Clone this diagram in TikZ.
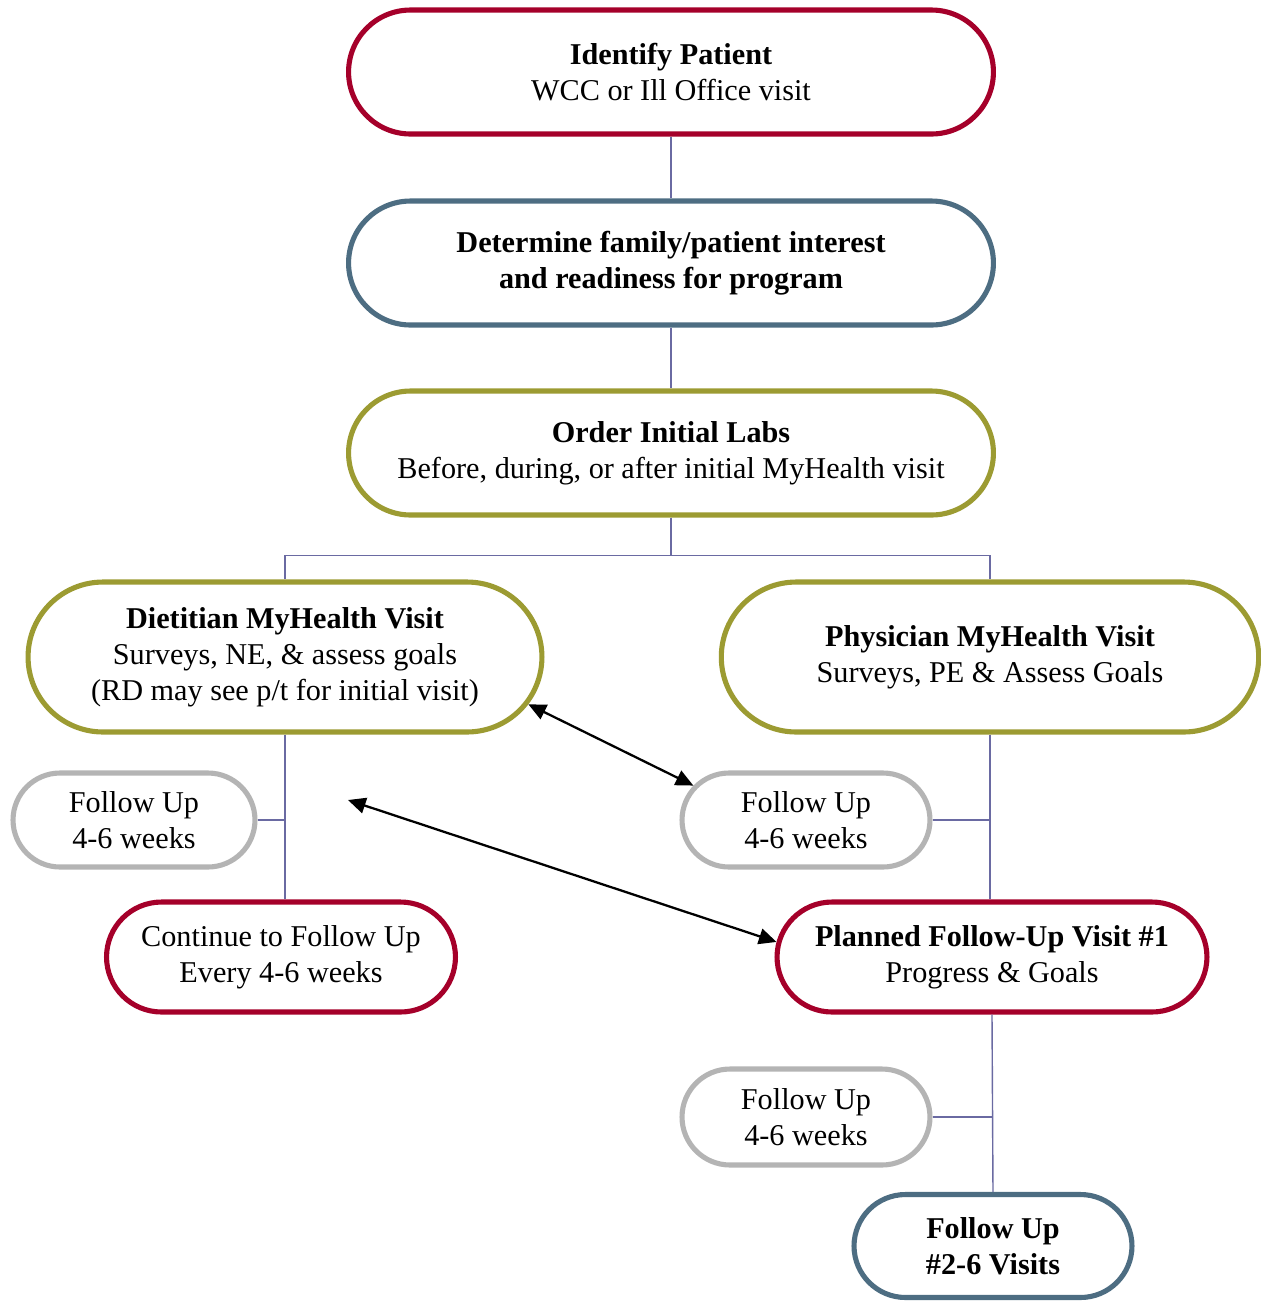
\documentclass[tikz,border=0pt]{standalone}
\usepackage{fontspec}
\setmainfont{Liberation Serif}
\usetikzlibrary{shapes.misc,arrows.meta}
\definecolor{boxred}{HTML}{A5002A}
\definecolor{boxblue}{HTML}{4D6D82}
\definecolor{boxolive}{HTML}{9C9B32}
\definecolor{boxgrey}{HTML}{B4B4B4}
\definecolor{linkblue}{HTML}{6A6AA2}
\begin{document}
\begin{tikzpicture}[x=0.02cm,y=-0.02cm,>={Triangle[length=10pt,width=9pt]},
        pill/.style={rounded rectangle,draw,line width=2.9pt,fill=white,align=center,inner sep=0pt,
            font=\fontsize{17.2}{20.5}\selectfont},
        link/.style={draw=linkblue,line width=0.8pt},
        both/.style={<->,line width=1.3pt}]
                \useasboundingbox (0,0) rectangle (1261,1303);
                % main column
                \node[pill,draw=boxred,minimum width=12.9cm,minimum height=2.48cm] (idpat) at (671,72)
                    {\textbf{Identify Patient}\\WCC or Ill Office visit};
                \node[pill,draw=boxblue,minimum width=12.9cm,minimum height=2.48cm] (interest) at (671,263)
                    {\textbf{Determine family/patient interest}\\\textbf{and readiness for program}};
                \node[pill,draw=boxolive,minimum width=12.9cm,minimum height=2.48cm] (labs) at (671,453)
                    {\textbf{Order Initial Labs}\\Before, during, or after initial MyHealth visit};
                % two visits
                \node[pill,draw=boxolive,minimum width=10.28cm,minimum height=3cm] (dietitian) at (285,657)
                    {\textbf{Dietitian MyHealth Visit}\\Surveys, NE, \& assess goals\\(RD may see p/t for initial visit)};
                \node[pill,draw=boxolive,minimum width=10.75cm,minimum height=3cm] (physician) at (990,657)
                    {\textbf{Physician MyHealth Visit}\\Surveys, PE \& Assess Goals};
                % follow ups
                \node[pill,draw=boxgrey,minimum width=4.84cm,minimum height=1.88cm] (fuleft) at (134,820)
                    {Follow Up\\4-6 weeks};
                \node[pill,draw=boxgrey,minimum width=4.96cm,minimum height=1.88cm] (fumid) at (806,820)
                    {Follow Up\\4-6 weeks};
                \node[pill,draw=boxred,minimum width=6.98cm,minimum height=2.2cm] (continue) at (281,957)
                    {Continue to Follow Up\\Every 4-6 weeks};
                \node[pill,draw=boxred,minimum width=8.6cm,minimum height=2.2cm] (planned) at (992,957)
                    {\textbf{Planned Follow-Up Visit \#1}\\Progress \& Goals};
                \node[pill,draw=boxgrey,minimum width=4.96cm,minimum height=1.92cm] (fulow) at (806,1117)
                    {Follow Up\\4-6 weeks};
                \node[pill,draw=boxblue,minimum width=5.56cm,minimum height=2.06cm] (fuvisits) at (993,1246)
                    {\textbf{Follow Up}\\\textbf{\#2-6 Visits}};
                % links
                \draw[link] (idpat.south) -- (interest.north);
                \draw[link] (interest.south) -- (labs.north);
                \draw[link] (labs.south) -- ++(0,38) -| (dietitian.north);
                \draw[link] (labs.south) -- ++(0,38) -| (physician.north);
                \draw[link] (dietitian.south) -- (dietitian.south |- continue.north);
                \draw[link] (fuleft.east) -- (fuleft.east -| dietitian.south);
                \draw[link] (physician.south) -- (physician.south |- planned.north);
                \draw[link] (fumid.east) -- (fumid.east -| physician.south);
                \draw[link] (planned.south) -- (fuvisits.north);
                \draw[link] (fulow.east) -- (fulow.east -| planned.south);
                % arrows
                \coordinate (gap) at (348,800);
                \draw[both] (dietitian.-11) -- (fumid.163);
                \draw[both] (gap) -- (planned.176);
\end{tikzpicture}
\end{document}
